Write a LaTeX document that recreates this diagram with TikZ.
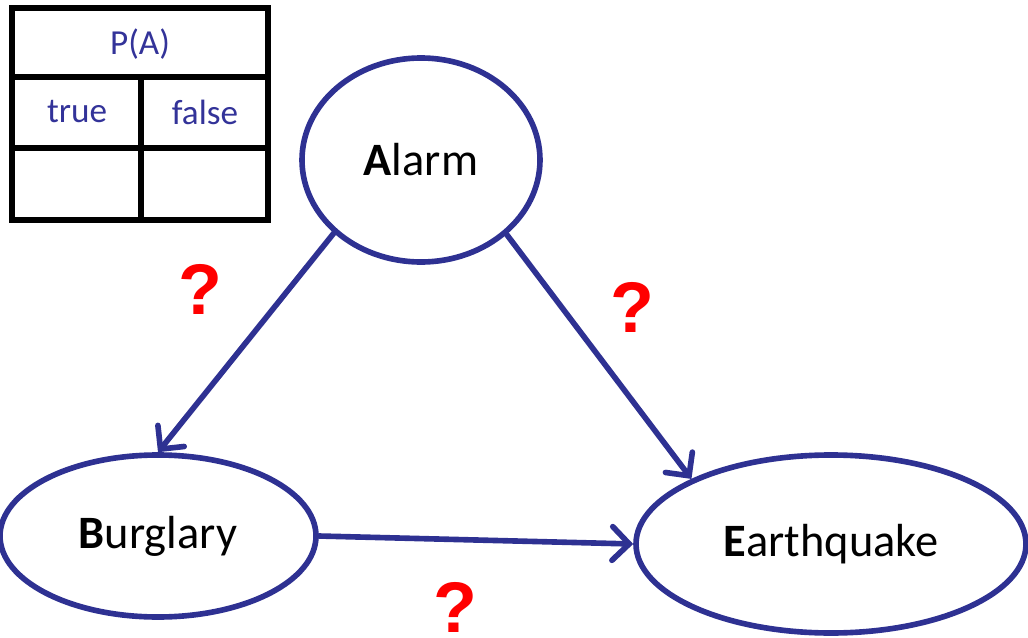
\documentclass[tikz,border=0pt]{standalone}
\usepackage{fontspec}
\setmainfont{Carlito}
\newfontfamily\qfont{Liberation Sans}
\usetikzlibrary{shapes.geometric,arrows.meta}
\definecolor{netblue}{RGB}{46,49,146}
\definecolor{tabblue}{RGB}{51,51,153}

\begin{document}
\begin{tikzpicture}[x=0.025cm, y=-0.025cm,
	var/.style={ellipse, draw=netblue, line width=4pt, inner sep=0pt, font=\fontsize{33}{40}\selectfont},
	link/.style={draw=netblue, line width=4pt, line cap=round, -{Straight Barb[length=12pt, width=24pt, line cap=round]}},
	cell/.style={text=tabblue, font=\fontsize{25}{30}\selectfont},
	ask/.style={text=red, anchor=base, inner sep=0pt, font=\qfont\bfseries\fontsize{51}{60}\selectfont}]
		%%%%% START %%%%%
		\useasboundingbox (0, 0) rectangle (1028, 638);
		
		% table P(A)
		\draw[line width=4.5pt] (12, 8) rectangle (268, 220);
		\draw[line width=4.5pt] (12, 77) -- (268, 77);
		\draw[line width=4.5pt] (12, 148) -- (268, 148);
		\draw[line width=4.5pt] (141, 77) -- (141, 220);
		\node[cell] (pa) at (140, 44) {P(A)};
		\node[cell] (ptrue) at (77, 112) {true};
		\node[cell] (pfalse) at (205, 112) {false};
		
		% network
		\node[var, minimum width=238*0.025cm, minimum height=204*0.025cm] (A) at (421, 160) {\textbf{A}larm};
		\node[var, minimum width=316*0.025cm, minimum height=162*0.025cm] (B) at (158, 536) {\textbf{B}urglary};
		\node[var, minimum width=390*0.025cm, minimum height=178*0.025cm] (E) at (831, 544) {\textbf{E}arthquake};
		
		\draw[link] (A.220) -- (B.90);
		\draw[link] (A.319) -- (E.155);
		\draw[link] (B.0) -- (E.180);
		
		\node[ask] (q1) at (200, 314) {?};
		\node[ask] (q2) at (632, 332) {?};
		\node[ask] (q3) at (455, 632) {?};
		
		%%%%% END %%%%%
	\end{tikzpicture}
\end{document}
